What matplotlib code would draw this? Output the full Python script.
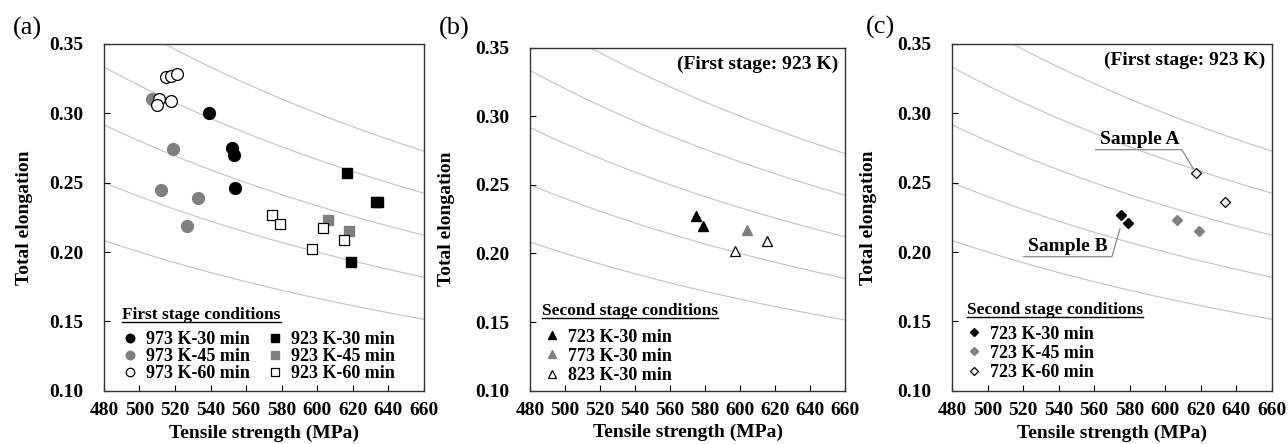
import numpy as np
import matplotlib
matplotlib.use('Agg')
import matplotlib.pyplot as plt

plt.rcParams['font.family'] = ['Liberation Serif', 'DejaVu Serif']
plt.rcParams['font.weight'] = 'bold'

# iso TS x El curves (MPa)
iso_products = [100, 120, 140, 160, 180]

# (a) first stage conditions
ts_973_30 = [539, 552, 553, 553.5]
el_973_30 = [0.300, 0.275, 0.270, 0.246]
ts_973_45 = [507, 519, 512, 533, 527]
el_973_45 = [0.310, 0.274, 0.245, 0.239, 0.219]
ts_973_60 = [515, 518, 521, 511, 510, 518]
el_973_60 = [0.326, 0.327, 0.328, 0.310, 0.306, 0.309]
ts_923_30 = [617, 633, 634, 619]
el_923_30 = [0.257, 0.236, 0.236, 0.193]
ts_923_45 = [606, 618]
el_923_45 = [0.223, 0.215]
ts_923_60 = [574.5, 579, 597, 603.5, 615]
el_923_60 = [0.227, 0.220, 0.202, 0.217, 0.209]

# (b) second stage, 30 min
ts_723_30 = [575, 579]
el_723_30 = [0.227, 0.220]
ts_773_30 = [604]
el_773_30 = [0.217]
ts_823_30 = [597, 615.5]
el_823_30 = [0.202, 0.209]

# (c) second stage at 723 K
ts_c30 = [575, 579]
el_c30 = [0.227, 0.221]
ts_c45 = [606.5, 619]
el_c45 = [0.223, 0.215]
ts_c60 = [617.5, 633.5]
el_c60 = [0.257, 0.236]

fig = plt.figure(figsize=(12.88, 4.44), dpi=100)
ax_a = fig.add_axes([0.0807, 0.12, 0.2484, 0.781])
ax_b = fig.add_axes([0.4115, 0.12, 0.2446, 0.773])
ax_c = fig.add_axes([0.7391, 0.12, 0.2484, 0.781])

ts_grid = np.linspace(480, 660, 200)
gray = '#808080'
FS = 14


def setup(ax, ylab_x):
    for k in iso_products:
        ax.plot(ts_grid, k / ts_grid, color='#c2c2c2', lw=0.8, zorder=1)
    ax.set_xlim(480, 660)
    ax.set_ylim(0.10, 0.35)
    ax.set_xticks(np.arange(480, 661, 20))
    ax.set_yticks([0.10, 0.15, 0.20, 0.25, 0.30, 0.35])
    ax.set_yticklabels(['0.10', '0.15', '0.20', '0.25', '0.30', '0.35'])
    ax.tick_params(axis='x', direction='in', length=4, labelsize=FS, pad=8)
    ax.tick_params(axis='y', direction='in', length=4, labelsize=FS, pad=15)
    for s in ax.spines.values():
        s.set_color('#333333')
        s.set_linewidth(1.0)
    ax.set_xlabel('Tensile strength (MPa)', fontsize=FS, fontweight='bold')
    ax.set_ylabel('Total elongation', fontsize=FS, fontweight='bold')
    ax.xaxis.set_label_coords(0.5, -0.097)
    ax.yaxis.set_label_coords(ylab_x, 0.5)


setup(ax_a, -0.222)
setup(ax_b, -0.238)
setup(ax_c, -0.235)

# panel (a)
ax_a.plot(ts_973_30, el_973_30, 'o', ms=8.5, mfc='black', mec='black', ls='none', label='973 K-30 min', zorder=3)
ax_a.plot(ts_973_45, el_973_45, 'o', ms=8.5, mfc=gray, mec=gray, ls='none', label='973 K-45 min', zorder=3)
ax_a.plot(ts_973_60, el_973_60, 'o', ms=8.5, mfc='white', mec='black', mew=0.9, ls='none', label='973 K-60 min', zorder=3)
ax_a.plot(ts_923_30, el_923_30, 's', ms=7.7, mfc='black', mec='black', ls='none', label='923 K-30 min', zorder=3)
ax_a.plot(ts_923_45, el_923_45, 's', ms=7.7, mfc=gray, mec=gray, ls='none', label='923 K-45 min', zorder=3)
ax_a.plot(ts_923_60, el_923_60, 's', ms=7.7, mfc='white', mec='black', mew=0.9, ls='none', label='923 K-60 min', zorder=3)

# panel (b)
ax_b.plot(ts_723_30, el_723_30, '^', ms=7.5, mfc='black', mec='black', ls='none', label='723 K-30 min', zorder=3)
ax_b.plot(ts_773_30, el_773_30, '^', ms=7.5, mfc=gray, mec=gray, ls='none', label='773 K-30 min', zorder=3)
ax_b.plot(ts_823_30, el_823_30, '^', ms=7.5, mfc='white', mec='black', mew=0.9, ls='none', label='823 K-30 min', zorder=3)

# panel (c)
ax_c.plot(ts_c30, el_c30, 'D', ms=5.5, mfc='black', mec='black', ls='none', label='723 K-30 min', zorder=3)
ax_c.plot(ts_c45, el_c45, 'D', ms=5.5, mfc=gray, mec=gray, ls='none', label='723 K-45 min', zorder=3)
ax_c.plot(ts_c60, el_c60, 'D', ms=5.5, mfc='white', mec='black', mew=0.9, ls='none', label='723 K-60 min', zorder=3)

leg_kw = dict(frameon=False, prop={'family': 'Liberation Serif', 'weight': 'bold', 'size': 13},
              handlelength=0.8, handletextpad=0.5, borderpad=0,
              borderaxespad=0, markerscale=0.72, loc='upper left')
ax_a.legend(ncol=2, columnspacing=1.0, labelspacing=0.0, bbox_to_anchor=(0.058, 0.172), **leg_kw)
ax_b.legend(labelspacing=0.12, bbox_to_anchor=(0.047, 0.181), **leg_kw)
ax_c.legend(labelspacing=0.12, bbox_to_anchor=(0.047, 0.188), **leg_kw)

titles = [
    ax_a.text(0.057, 0.218, 'First stage conditions', transform=ax_a.transAxes,
              fontsize=12.5, fontweight='bold', va='center', ha='left'),
    ax_b.text(0.037, 0.232, 'Second stage conditions', transform=ax_b.transAxes,
              fontsize=12.5, fontweight='bold', va='center', ha='left'),
    ax_c.text(0.047, 0.232, 'Second stage conditions', transform=ax_c.transAxes,
              fontsize=12.5, fontweight='bold', va='center', ha='left'),
]

for ax in (ax_b, ax_c):
    ax.text(656, 0.338, '(First stage: 923 K)', fontsize=FS, fontweight='bold',
            ha='right', va='center')

# sample annotations in (c)
ax_c.text(585.5, 0.2752, 'Sample A', fontsize=FS, fontweight='bold', ha='center', va='bottom')
ax_c.plot([560.8, 609.3, 615.8], [0.2738, 0.2738, 0.2600], color='#888888', lw=0.9, zorder=2)
ax_c.text(545, 0.1978, 'Sample B', fontsize=FS, fontweight='bold', ha='center', va='bottom')
ax_c.plot([520.4, 570.0, 574.5], [0.1966, 0.1966, 0.2166], color='#888888', lw=0.9, zorder=2)

# panel letters
fig.text(0.021, 0.937, '(a)', fontsize=19, fontweight='normal', ha='center', va='center')
fig.text(0.353, 0.937, '(b)', fontsize=19, fontweight='normal', ha='center', va='center')
fig.text(0.684, 0.939, '(c)', fontsize=19, fontweight='normal', ha='center', va='center')

# underline legend titles
fig.canvas.draw()
for ax, t in zip((ax_a, ax_b, ax_c), titles):
    bb = t.get_window_extent()
    inv = ax.transAxes.inverted()
    (x0, y0), (x1, y1) = inv.transform([[bb.x0, bb.y0], [bb.x1, bb.y1]])
    ax.plot([x0, x1], [y0 + 0.004, y0 + 0.004], transform=ax.transAxes,
            color='black', lw=1.0, clip_on=False)

fig.savefig('out.png', dpi=100)
